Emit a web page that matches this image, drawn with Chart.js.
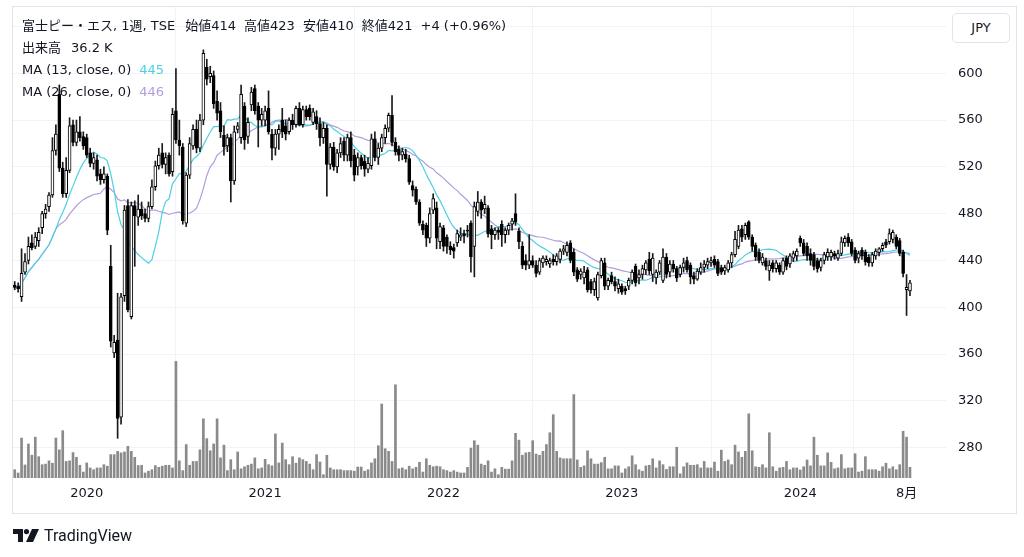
<!DOCTYPE html>
<html><head><meta charset="utf-8">
<script src="https://cdn.jsdelivr.net/npm/chart.js@4.4.1/dist/chart.umd.min.js"></script>
<style>
html,body{margin:0;padding:0;background:#fff;}
#wrap{position:relative;width:1024px;height:557px;overflow:hidden;font-family:"DejaVu Sans","Noto Sans CJK JP",sans-serif;color:#131722;}
#frame{position:absolute;left:12px;top:6px;width:1005px;height:508px;border:1px solid #e0e3eb;box-sizing:border-box;pointer-events:none;}
#c{position:absolute;left:0;top:0;}
.hl{position:absolute;left:22px;height:22px;line-height:22px;font-size:13px;white-space:nowrap;}
.hl span.g{margin-left:8px;}
#jpy{position:absolute;left:952px;top:13px;width:58px;height:30px;border:1px solid #e0e3eb;border-radius:5px;box-sizing:border-box;font-size:13px;text-align:center;line-height:28px;background:#fff;}
#logo{position:absolute;left:13px;top:526px;height:18px;display:flex;align-items:center;font-family:Roboto,sans-serif;}
#logo span{font-size:16px;margin-left:5px;color:#131722;}
</style></head>
<body><div id="wrap">
<canvas id="c" width="1024" height="557"></canvas>
<div id="frame"></div>
<div class="hl" style="top:15px">富士ピー・エス, 1週, TSE<span class="g" style="margin-left:10px">始値414</span><span class="g">高値423</span><span class="g">安値410</span><span class="g">終値421</span><span class="g">+4 (+0.96%)</span></div>
<div class="hl" style="top:37px">出来高<span class="g" style="margin-left:10px">36.2 K</span></div>
<div class="hl" style="top:59px">MA (13, close, 0)<span class="g" style="color:#4dd0e1">445</span></div>
<div class="hl" style="top:81px">MA (26, close, 0)<span class="g" style="color:#b39ddb">446</span></div>
<div id="jpy">JPY</div>
<div id="logo"><svg width="26" height="13" viewBox="0 0 26 13"><path d="M0 0h10v13H5V5H0z" fill="#131722"/><circle cx="13.5" cy="2.6" r="2.6" fill="#131722"/><path d="M19 0h7l-6 13h-7z" fill="#131722"/></svg><span>TradingView</span></div>
</div>
<script>
const opens=[419,418,409,430,440,455,452,457,468,480,486,496,534,582,519,497,517,556,541,550,546,545,532,523,526,514,509,512,435,361,372,306,410,487,392,487,477,484,480,476,486,503,521,532,522,530,516,568,543,537,472,513,538,552,536,560,605,597,598,576,568,547,538,545,508,552,545,572,546,573,587,572,560,560,570,548,536,548,560,555,550,560,556,570,556,569,570,558,563,557,545,553,522,537,520,532,542,530,545,530,520,528,525,518,521,544,528,536,545,553,564,541,535,530,531,527,504,501,490,471,470,459,483,485,456,468,460,452,451,455,460,463,466,472,452,482,490,484,485,467,462,466,471,462,466,471,480,465,452,440,436,440,436,430,438,439,437,441,439,441,448,447,455,447,432,428,425,432,422,415,408,427,438,418,427,422,416,418,416,418,423,435,425,428,432,441,428,425,430,423,443,430,437,433,428,434,440,436,427,424,430,434,436,438,441,439,434,431,432,438,445,452,467,462,473,460,453,447,438,440,431,438,433,436,430,442,437,442,444,459,455,452,446,445,440,434,440,443,443,446,442,446,455,460,456,449,442,449,447,443,438,444,447,450,456,456,458,460,457,447,415,414];
const highs=[422,421,450,446,460,462,464,468,482,488,498,545,556,590,524,528,562,560,560,563,550,548,536,532,530,518,520,514,453,376,412,412,487,492,490,491,496,490,484,490,509,525,536,540,532,532,570,604,560,540,515,545,556,560,565,620,612,606,602,585,575,555,548,548,555,558,590,575,562,588,590,575,570,572,585,552,552,556,570,560,562,565,572,575,572,572,573,570,568,562,558,556,540,541,535,545,545,548,550,535,532,530,530,528,548,550,540,548,556,566,581,545,538,536,535,530,508,503,492,474,472,485,497,490,472,470,462,456,454,466,468,466,470,474,490,499,492,495,487,470,468,468,474,468,472,476,497,468,456,445,462,444,440,442,444,444,442,445,446,450,453,456,457,450,434,433,435,434,424,425,430,442,442,425,430,426,424,420,418,425,432,437,432,436,440,447,446,432,440,450,446,440,440,435,436,442,443,438,430,433,438,440,442,443,444,441,436,436,440,447,465,470,470,472,474,462,455,450,446,442,440,440,440,438,442,444,446,448,450,461,458,455,450,447,442,442,447,450,449,448,449,460,461,463,458,451,448,451,449,445,447,450,451,455,458,467,466,462,459,449,428,423];
const lows=[415,413,405,428,437,449,450,452,463,476,482,494,530,516,494,494,515,538,538,542,535,528,520,518,508,505,506,462,366,357,288,300,405,396,390,435,470,475,473,473,484,500,518,519,514,512,512,540,530,471,469,510,535,532,533,556,590,592,570,560,545,530,533,490,505,549,540,535,540,568,565,537,555,555,548,526,530,535,545,543,548,552,554,555,554,560,560,556,552,538,540,495,518,517,515,528,525,525,520,508,513,518,512,515,518,525,522,533,540,550,538,530,525,526,524,505,495,488,470,462,452,455,480,450,450,448,446,445,442,452,457,455,460,430,426,478,476,480,460,450,458,458,452,455,462,466,470,450,433,432,433,434,426,428,434,436,434,436,436,438,445,444,438,427,422,424,420,413,412,410,406,425,415,415,420,414,412,411,411,415,420,418,420,424,428,428,422,420,428,421,425,426,430,422,426,430,430,420,420,423,428,430,433,435,434,427,428,428,430,434,443,450,456,458,458,448,440,438,436,432,423,430,430,428,428,432,434,439,440,452,444,440,436,432,430,431,437,440,440,441,440,444,452,452,444,438,438,441,436,435,435,441,444,448,451,454,455,450,444,426,393,410];
const closes=[417,416,429,439,452,451,460,464,480,484,496,534,548,519,497,517,555,541,550,545,538,530,523,528,512,509,514,466,371,370,305,409,483,398,487,478,484,478,476,486,503,521,530,522,528,514,565,543,538,474,513,540,552,536,560,617,595,600,574,566,550,537,545,508,550,555,582,543,558,584,568,560,565,568,550,536,548,552,550,548,560,556,570,556,569,563,563,567,557,545,553,522,537,520,532,540,530,545,525,513,528,521,518,523,544,528,536,545,553,564,541,533,530,533,527,507,500,490,472,466,459,480,493,459,469,452,452,449,448,463,462,461,465,443,486,490,483,488,463,462,466,464,462,466,470,474,473,456,436,436,440,436,429,440,442,441,440,439,444,448,450,453,440,430,424,431,430,415,415,422,428,440,418,423,422,418,420,413,414,423,430,421,428,433,438,431,442,430,438,443,428,437,433,425,434,438,432,426,424,431,434,437,439,440,436,429,430,434,438,445,458,466,460,470,460,452,443,440,443,435,436,433,438,430,440,435,444,446,448,455,446,444,440,435,433,440,445,447,447,444,446,456,459,455,446,440,446,444,439,438,445,448,450,453,453,463,464,452,446,429,417,421];
const volumeK=[28,17,135,44,115,77,138,72,45,47,58,50,135,95,160,56,58,86,70,43,20,51,34,28,34,34,45,40,79,79,90,85,88,107,90,70,42,43,17,23,28,42,36,40,43,43,34,394,58,25,113,43,56,56,95,200,133,92,115,200,68,111,25,62,28,88,31,38,43,47,68,31,34,63,45,41,149,51,118,62,45,72,50,68,62,56,47,28,79,54,11,77,34,28,28,28,25,25,25,23,37,37,23,28,51,65,109,250,99,90,56,315,31,34,28,40,31,36,53,20,65,43,38,40,38,28,25,20,25,20,17,17,36,101,126,111,47,43,58,20,31,11,36,30,30,58,151,128,77,85,87,126,81,77,90,113,153,214,90,68,65,65,65,282,61,36,41,92,65,47,47,52,70,31,31,41,41,17,31,38,75,45,28,23,41,43,65,34,58,45,29,38,38,104,14,38,51,43,43,45,34,56,34,34,54,23,94,56,61,45,111,88,70,90,217,92,38,36,45,34,153,38,23,34,36,56,28,34,34,27,38,61,41,138,77,41,41,85,53,31,34,79,31,34,34,82,20,23,72,28,28,28,23,38,50,31,38,28,45,158,138,36.2];
const xTickIdx=[21,73,125,177,229,260];
const xTickLabels=["2020","2021","2022","2023","2024","8月"];
const priceTicks=[280,320,360,400,440,480,520,560,600,640];
const maPeriods=[13,26];

function sma(arr,n){return arr.map((_,i)=>{const s=Math.max(0,i-n+1);let t=0;for(let j=s;j<=i;j++)t+=arr[j];return t/(i-s+1);});}
const ma13=sma(closes,maPeriods[0]), ma26=sma(closes,maPeriods[1]);
const idx=closes.map((_,i)=>i);

const FONT='"DejaVu Sans", "Noto Sans CJK JP", sans-serif';
new Chart(document.getElementById('c'),{
  type:'bar',
  data:{datasets:[
    {type:'bar',label:'vol',yAxisID:'yv',data:idx.map(i=>({x:i,y:volumeK[i]})),backgroundColor:'#8a8a8a',barThickness:2,grouped:false,order:10},
    {type:'line',label:'ma26',yAxisID:'y',data:idx.map(i=>({x:i,y:ma26[i]})),borderColor:'#b39ddb',borderWidth:1.2,pointRadius:0,tension:0,order:6},
    {type:'line',label:'ma13',yAxisID:'y',data:idx.map(i=>({x:i,y:ma13[i]})),borderColor:'#4dd0e1',borderWidth:1.2,pointRadius:0,tension:0,order:5},
    {type:'bar',label:'wick',yAxisID:'y',data:idx.map(i=>({x:i,y:[Math.min(lows[i],opens[i],closes[i]),Math.max(highs[i],opens[i],closes[i])]})),backgroundColor:'#1a1a1a',barThickness:1,grouped:false,order:2},
    {type:'bar',label:'body',yAxisID:'y',data:idx.map(i=>({x:i,y:[opens[i],closes[i]]})),
      backgroundColor:idx.map(i=>closes[i]>=opens[i]?'#ffffff':'#000000'),borderColor:'#000000',borderWidth:1,borderSkipped:false,barThickness:3,grouped:false,order:1}
  ]},
  options:{
    responsive:false,animation:false,devicePixelRatio:1,
    layout:{padding:{left:12,top:6,right:8,bottom:44}},
    plugins:{legend:{display:false},tooltip:{enabled:false}},
    scales:{
      x:{type:'linear',min:-0.79,max:271.5,offset:false,
        afterBuildTicks:s=>{s.ticks=xTickIdx.map(v=>({value:v}));},
        afterFit:s=>{s.height=35;},
        ticks:{autoSkip:false,maxRotation:0,padding:8,color:'#131722',font:{family:FONT,size:13},
          callback:v=>xTickLabels[xTickIdx.indexOf(v)]},
        grid:{color:'#f0f3fa',drawTicks:false},border:{display:false}},
      y:{type:'linear',position:'right',min:254.1,max:657.5,
        afterBuildTicks:s=>{s.ticks=priceTicks.map(v=>({value:v}));},
        afterFit:s=>{s.width=70;s.paddingTop=0;s.paddingBottom=0;},
        ticks:{padding:12,color:'#131722',font:{family:FONT,size:13},callback:v=>v===640?'':String(v)},
        grid:{color:'#f0f3fa',drawTicks:false},border:{display:false}},
      yv:{display:false,min:0,max:1595}
    }
  }
});
</script>
</body></html>
